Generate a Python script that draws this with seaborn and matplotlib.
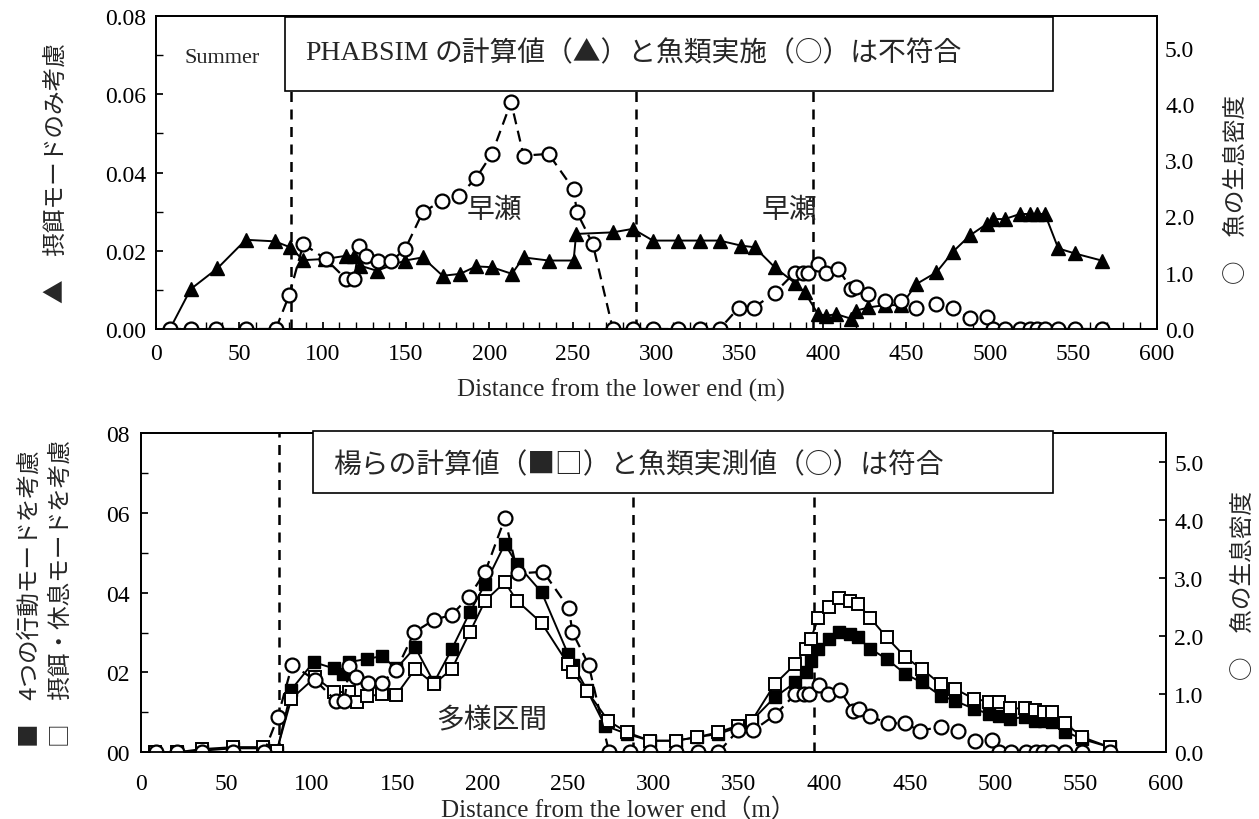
import pandas as pd
import seaborn as sns
import matplotlib.pyplot as plt
from matplotlib.patches import Rectangle
from matplotlib.ticker import MultipleLocator

# fish density (measured, right axis) - same survey drawn in both panels
fish_x = [8.5, 21, 36, 54, 72, 80, 88.5, 102, 114, 119, 122, 126, 133, 141, 149.5,
          160, 171.5, 182, 192, 201.5, 213, 220.5, 235.5, 250.5, 252.5, 262, 274, 286, 298, 313,
          326, 338, 349.5, 358.5, 371, 383, 388, 391, 397, 402, 409, 417, 420, 427, 437,
          447, 456, 468, 478, 488, 498, 502, 509, 518, 524, 528, 533, 541, 551, 567]
fish_v = [0, 0, 0, 0, 0, 0.60, 1.51, 1.24, 0.89, 0.89, 1.48, 1.30, 1.20, 1.20, 1.42,
          2.07, 2.28, 2.37, 2.68, 3.11, 4.03, 3.08, 3.11, 2.48, 2.07, 1.51, 0, 0, 0, 0,
          0, 0, 0.38, 0.38, 0.64, 1.0, 1.0, 1.0, 1.16, 1.0, 1.07, 0.71, 0.74, 0.62, 0.50,
          0.50, 0.37, 0.44, 0.37, 0.19, 0.21, 0, 0, 0, 0, 0, 0, 0, 0, 0]

# PHABSIM, feeding mode only (top panel)
phab_x = [8.5, 21, 37, 54, 71.5, 80.5, 88.5, 101.5, 114, 119, 122.5, 132.5, 149.5, 160, 172,
          182.5, 192, 201.5, 213.5, 220.5, 235.5, 250.5, 252, 274, 286, 298, 313, 326, 338, 351,
          359, 371, 383, 389, 397, 402, 408, 417, 420, 427, 437, 447, 456, 468, 478,
          488, 498, 502, 509, 518, 524, 528, 533, 541, 551, 567]
phab_v = [0, 0.0102, 0.0155, 0.0228, 0.0224, 0.0209, 0.0176, 0.0179, 0.0187, 0.0187, 0.0162,
          0.0149, 0.0175, 0.0183, 0.0136, 0.0141, 0.0160, 0.0158, 0.0141, 0.0183, 0.0175,
          0.0175, 0.0243, 0.0247, 0.0256, 0.0226, 0.0226, 0.0226, 0.0226, 0.0213, 0.0209,
          0.0158, 0.0118, 0.0094, 0.0038, 0.0034, 0.0038, 0.0026, 0.0047, 0.0055, 0.0061,
          0.0061, 0.0115, 0.0145, 0.0198, 0.0239, 0.0268, 0.0281, 0.0281, 0.0294, 0.0294,
          0.0294, 0.0294, 0.0206, 0.0193, 0.0175]

# Yang et al., four behaviour modes (bottom panel, filled squares)
mode4_x = [8, 21, 35.5, 54, 71.5, 79.5, 88, 101, 113, 118.5, 121.5, 132.5, 141, 149.5, 160.5,
           171.5, 182, 192.5, 201.5, 213, 220, 234.5, 250, 253, 261, 271.5, 284.5, 298, 313, 325.5,
           338, 349.5, 357.5, 371, 383, 389, 392, 396.5, 402.5, 408.5, 415, 419.5, 427, 436.5,
           447.5, 457, 468, 476.5, 487.5, 496.5, 502, 508.5, 517.5, 523.5, 528.5, 533, 541, 551, 567]
mode4_v = [0, 0, 0.0004, 0.001, 0.001, 0, 0.0157, 0.0226, 0.0210, 0.0196, 0.0226, 0.0234,
           0.0241, 0.0210, 0.0263, 0.0175, 0.0259, 0.0351, 0.0422, 0.0522, 0.0472, 0.0401,
           0.0246, 0.0219, 0.0157, 0.0067, 0.0046, 0.0029, 0.0029, 0.0038, 0.0046, 0.0063,
           0.0079, 0.0138, 0.0175, 0.0200, 0.0230, 0.0259, 0.0284, 0.0301, 0.0296, 0.0288,
           0.0259, 0.0234, 0.0196, 0.0175, 0.0142, 0.0129, 0.0109, 0.0096, 0.0092, 0.0084,
           0.0088, 0.0079, 0.0079, 0.0075, 0.0052, 0.0033, 0.0013]

# Yang et al., feeding + resting modes (bottom panel, open squares)
feed_x = [8, 21, 35.5, 54, 71.5, 79.5, 88, 102, 113, 121.5, 126.5, 132.5, 141, 149.5, 160.5,
          171.5, 182, 192.5, 201.5, 213, 220, 234.5, 250, 253, 261, 273.5, 284.5, 298, 313, 325.5,
          338, 349.5, 357.5, 371, 383, 389, 392, 396.5, 402.5, 408.5, 415, 419.5, 427, 436.5,
          447.5, 457, 468, 476.5, 487.5, 496.5, 502, 508.5, 517.5, 523.5, 528.5, 533, 541, 551, 567]
feed_v = [0, 0, 0.0008, 0.0013, 0.0013, 0.0004, 0.0134, 0.0188, 0.0152, 0.0150, 0.0125, 0.0140,
          0.0146, 0.0144, 0.0209, 0.0171, 0.0209, 0.0301, 0.0380, 0.0426, 0.0380, 0.0324,
          0.0221, 0.0200, 0.0154, 0.0079, 0.0050, 0.0029, 0.0029, 0.0038, 0.0050, 0.0067,
          0.0079, 0.0171, 0.0221, 0.0259, 0.0284, 0.0336, 0.0363, 0.0386, 0.0380, 0.0372,
          0.0336, 0.0288, 0.0238, 0.0209, 0.0171, 0.0159, 0.0134, 0.0127, 0.0127, 0.0110,
          0.0110, 0.0105, 0.0100, 0.0100, 0.0073, 0.0038, 0.0013]

section_x = [81, 288, 394]
bottom_ylabels = ['00', '02', '04', '06', '08']

sns.set_theme(style="ticks")
plt.rcParams['font.family'] = ['Liberation Serif', 'Noto Sans CJK JP']
plt.rcParams['axes.linewidth'] = 1.3
plt.rcParams['axes.edgecolor'] = 'black'
jp = ['Noto Sans CJK JP', 'DejaVu Sans']

W, H = 1259, 820
fig = plt.figure(figsize=(W / 100, H / 100), dpi=100)
ax1 = fig.add_axes([155.7 / W, 1 - 330 / H, 1001 / W, 313 / H])
ax2 = fig.add_axes([141 / W, 1 - 753.3 / H, 1025 / W, 319.3 / H])

fish = pd.DataFrame({'x': fish_x, 'v': fish_v})
circ_kw = dict(estimator=None, sort=False, color='black', linewidth=1.6,
               linestyle=(0, (5, 3)), marker='o', markersize=10,
               markerfacecolor='white', markeredgecolor='black', markeredgewidth=1.6)

# ---- top panel
sns.lineplot(x=phab_x, y=phab_v, ax=ax1, estimator=None, sort=False, color='black',
             linewidth=1.4, marker='^', markersize=10, markeredgecolor='black',
             markeredgewidth=1)
for s in section_x:
    ax1.axvline(s, color='black', lw=1.8, ls=(0, (4, 3)), zorder=1)
ax1.set_xlim(0, 600)
ax1.set_ylim(0, 0.08)
ax1.xaxis.set_major_locator(MultipleLocator(50))
ax1.xaxis.set_minor_locator(MultipleLocator(10))
ax1.yaxis.set_major_locator(MultipleLocator(0.02))
ax1.yaxis.set_minor_locator(MultipleLocator(0.01))
ax1.yaxis.set_major_formatter(lambda v, p: f'{v:.2f}')
ax1.tick_params(axis='both', which='both', direction='in', length=5, labelsize=17, colors='black')
ax1.tick_params(axis='y', pad=7)
ax1.tick_params(axis='x', pad=10)
ax1.set_xlabel('Distance from the lower end (m)', fontsize=18)
ax1.xaxis.set_label_coords(0.465, -0.155)
ax1.set_ylabel('▲\u3000摂餌モードのみ考慮', fontsize=17, family=jp)
ax1.yaxis.set_label_coords(-0.088, 0.5)
ax1.text(17, 0.0695, 'Summer', fontsize=16, va='center')
ax1.text(203, 0.0307, '早瀬', fontsize=20, ha='center', va='center', family=jp)
ax1.text(380, 0.0307, '早瀬', fontsize=20, ha='center', va='center', family=jp)

ax1r = ax1.twinx()
sns.lineplot(data=fish, x='x', y='v', ax=ax1r, **circ_kw)
ax1r.set_ylim(0, 5.56)
ax1r.set_yticks([0, 1, 2, 3, 4, 5])
ax1r.yaxis.set_major_formatter(lambda v, p: f'{v:.1f}')
ax1r.tick_params(axis='y', direction='in', length=0, labelsize=17, pad=6, colors='black')
ax1r.set_ylabel('○\u3000魚の生息密度', fontsize=17, rotation=90, family=jp)
ax1r.yaxis.set_label_coords(1.068, 0.45)

# ---- bottom panel
sns.lineplot(x=mode4_x, y=mode4_v, ax=ax2, estimator=None, sort=False, color='black',
             linewidth=1.4, marker='s', markersize=9, markeredgecolor='black',
             markeredgewidth=1)
sns.lineplot(x=feed_x, y=feed_v, ax=ax2, estimator=None, sort=False, color='black',
             linewidth=1.4, marker='s', markersize=9, markerfacecolor='white',
             markeredgecolor='black', markeredgewidth=1.4)
for s in section_x:
    ax2.axvline(s, color='black', lw=1.8, ls=(0, (4, 3)), zorder=1)
ax2.set_xlim(0, 600)
ax2.set_ylim(0, 0.08)
ax2.set_xticks(range(0, 601, 50))
ax2.set_yticks([0, 0.02, 0.04, 0.06, 0.08], bottom_ylabels)
ax2.yaxis.set_minor_locator(MultipleLocator(0.01))
ax2.tick_params(axis='x', length=0, labelsize=17, pad=15, colors='black')
ax2.tick_params(axis='y', which='both', direction='in', length=5, labelsize=17, pad=8,
                colors='black')
ax2.set_xlabel('Distance from the lower end（m）', fontsize=18)
ax2.xaxis.set_label_coords(0.466, -0.138)
ax2.set_ylabel('■\u30004つの行動モードを考慮\n□\u3000摂餌・休息モードを考慮', fontsize=17,
               linespacing=1.45, multialignment='left', family=jp)
ax2.yaxis.set_label_coords(-0.067, 0.5)
ax2.text(205, 0.0083, '多様区間', fontsize=20, ha='center', va='center', family=jp)

ax2r = ax2.twinx()
sns.lineplot(data=fish, x='x', y='v', ax=ax2r, **circ_kw)
ax2r.set_ylim(0, 5.5)
ax2r.set_yticks([0, 1, 2, 3, 4, 5])
ax2r.yaxis.set_major_formatter(lambda v, p: f'{v:.1f}')
ax2r.tick_params(axis='y', direction='in', length=5, labelsize=17, pad=6, colors='black')
ax2r.set_ylabel('○\u3000魚の生息密度', fontsize=17, rotation=90, family=jp)
ax2r.yaxis.set_label_coords(1.064, 0.524)

for a in (ax1, ax1r, ax2, ax2r):
    for sp in a.spines.values():
        sp.set_visible(True)
        sp.set_color('black')

# title boxes
fig.add_artist(Rectangle((285 / W, 1 - 92 / H), 768 / W, 74 / H, transform=fig.transFigure,
                         facecolor='white', edgecolor='black', lw=1.2))
t0 = fig.text(305 / W, 1 - 53 / H, 'PHABSIM', fontsize=20, va='center', ha='left')
fig.canvas.draw()
x_end = t0.get_window_extent().x1 / W
fig.text(x_end + 6 / W, 1 - 53 / H, 'の計算値（▲）と魚類実施（○）は不符合',
         fontsize=20, va='center', ha='left', family=jp)
fig.add_artist(Rectangle((313 / W, 1 - 494 / H), 740 / W, 62 / H, transform=fig.transFigure,
                         facecolor='white', edgecolor='black', lw=1.2))
fig.text(333 / W, 1 - 465 / H, '楊らの計算値（■□）と魚類実測値（○）は符合',
         fontsize=20, va='center', ha='left', family=jp)

fig.savefig('out.png', dpi=100)
